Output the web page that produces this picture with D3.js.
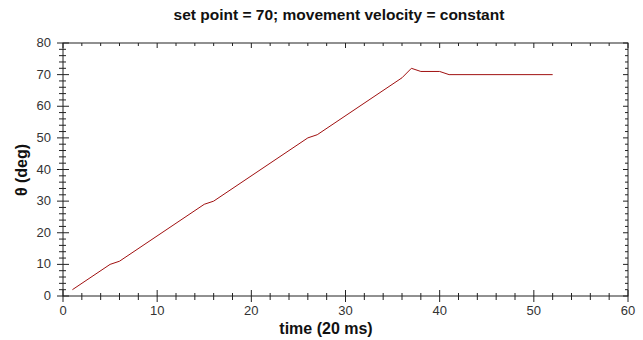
<!DOCTYPE html>
<html>
<head>
<meta charset="utf-8">
<script src="https://cdn.jsdelivr.net/npm/d3@7"></script>
<style>
  body { margin: 0; background: #fff; }
  svg text { font-family: "Liberation Sans", Arial, sans-serif; }
</style>
</head>
<body>
<div id="chart"></div>
<script>
// Angle trace: set point 70, constant movement velocity
const timeSteps = [1, 5, 6, 15, 16, 26, 27, 36, 37, 38, 40, 41, 52];
const thetaDeg  = [2, 10, 11, 29, 30, 50, 51, 69, 72, 71, 71, 70, 70];

const xTicks = [0, 10, 20, 30, 40, 50, 60];
const yTicks = [0, 10, 20, 30, 40, 50, 60, 70, 80];

const titleText = 'set point = 70; movement velocity = constant';
const xLabel = 'time (20 ms)';
const yLabel = 'θ (deg)';

const W = 643, H = 340;
const margin = { top: 43, right: 15, bottom: 44, left: 63 };
const width = W - margin.left - margin.right;
const height = H - margin.top - margin.bottom;

const root = d3.select('#chart').append('svg')
    .attr('width', W)
    .attr('height', H);

const svg = root.append('g')
    .attr('transform', `translate(${margin.left},${margin.top})`);

const xScale = d3.scaleLinear().domain([0, 60]).range([0, width]);
const yScale = d3.scaleLinear().domain([0, 80]).range([height, 0]);

const minorX = d3.range(0, 61, 2).filter(v => v % 10 !== 0);
const minorY = d3.range(0, 81, 2).filter(v => v % 10 !== 0);
const axisColor = '#222';

// frame
svg.append('rect')
    .attr('width', width)
    .attr('height', height)
    .attr('fill', 'none')
    .attr('stroke', axisColor)
    .attr('stroke-width', 1);

// bottom axis: major ticks cross the line, minor ticks cross shorter
const xAxis = svg.append('g')
    .attr('transform', `translate(0,${height})`);
xAxis.selectAll('.major')
    .data(xTicks)
    .enter().append('line')
    .attr('x1', d => xScale(d)).attr('x2', d => xScale(d))
    .attr('y1', -6).attr('y2', 6)
    .attr('stroke', axisColor);
xAxis.selectAll('.minor')
    .data(minorX)
    .enter().append('line')
    .attr('x1', d => xScale(d)).attr('x2', d => xScale(d))
    .attr('y1', -3).attr('y2', 4)
    .attr('stroke', axisColor);
xAxis.selectAll('.lbl')
    .data(xTicks)
    .enter().append('text')
    .attr('x', d => xScale(d))
    .attr('y', 19)
    .attr('text-anchor', 'middle')
    .style('font-size', '13px')
    .style('fill', '#333')
    .text(d => d);

// left axis
const yAxis = svg.append('g');
yAxis.selectAll('.major')
    .data(yTicks)
    .enter().append('line')
    .attr('y1', d => yScale(d)).attr('y2', d => yScale(d))
    .attr('x1', -6).attr('x2', 6)
    .attr('stroke', axisColor);
yAxis.selectAll('.minor')
    .data(minorY)
    .enter().append('line')
    .attr('y1', d => yScale(d)).attr('y2', d => yScale(d))
    .attr('x1', -4).attr('x2', 3)
    .attr('stroke', axisColor);
yAxis.selectAll('.lbl')
    .data(yTicks)
    .enter().append('text')
    .attr('x', -12)
    .attr('y', d => yScale(d) + 4)
    .attr('text-anchor', 'end')
    .style('font-size', '13px')
    .style('fill', '#333')
    .text(d => d);

// top and right: small inward ticks
svg.selectAll('.topTick')
    .data(minorX.concat(xTicks))
    .enter().append('line')
    .attr('x1', d => xScale(d)).attr('x2', d => xScale(d))
    .attr('y1', 0).attr('y2', d => d % 10 === 0 ? 5 : 3)
    .attr('stroke', axisColor);
svg.selectAll('.rightTick')
    .data(minorY.concat(yTicks))
    .enter().append('line')
    .attr('y1', d => yScale(d)).attr('y2', d => yScale(d))
    .attr('x1', width).attr('x2', d => width - (d % 10 === 0 ? 5 : 3))
    .attr('stroke', axisColor);

// data line
const series = timeSteps.map((t, i) => ({ t, v: thetaDeg[i] }));
const line = d3.line()
    .x(d => xScale(d.t))
    .y(d => yScale(d.v));

svg.append('path')
    .datum(series)
    .attr('d', line)
    .attr('fill', 'none')
    .attr('stroke', '#a01010')
    .attr('stroke-width', 1);

// titles
root.append('text')
    .attr('x', 339)
    .attr('y', 20)
    .attr('text-anchor', 'middle')
    .style('font-size', '15.5px')
    .style('font-weight', 'bold')
    .style('fill', '#111')
    .text(titleText);

root.append('text')
    .attr('x', 326)
    .attr('y', 334)
    .attr('text-anchor', 'middle')
    .style('font-size', '16px')
    .style('font-weight', 'bold')
    .style('fill', '#111')
    .text(xLabel);

root.append('text')
    .attr('transform', 'rotate(-90)')
    .attr('x', -170)
    .attr('y', 27)
    .attr('text-anchor', 'middle')
    .style('font-size', '16px')
    .style('font-weight', 'bold')
    .style('fill', '#111')
    .text(yLabel);
</script>
</body>
</html>
